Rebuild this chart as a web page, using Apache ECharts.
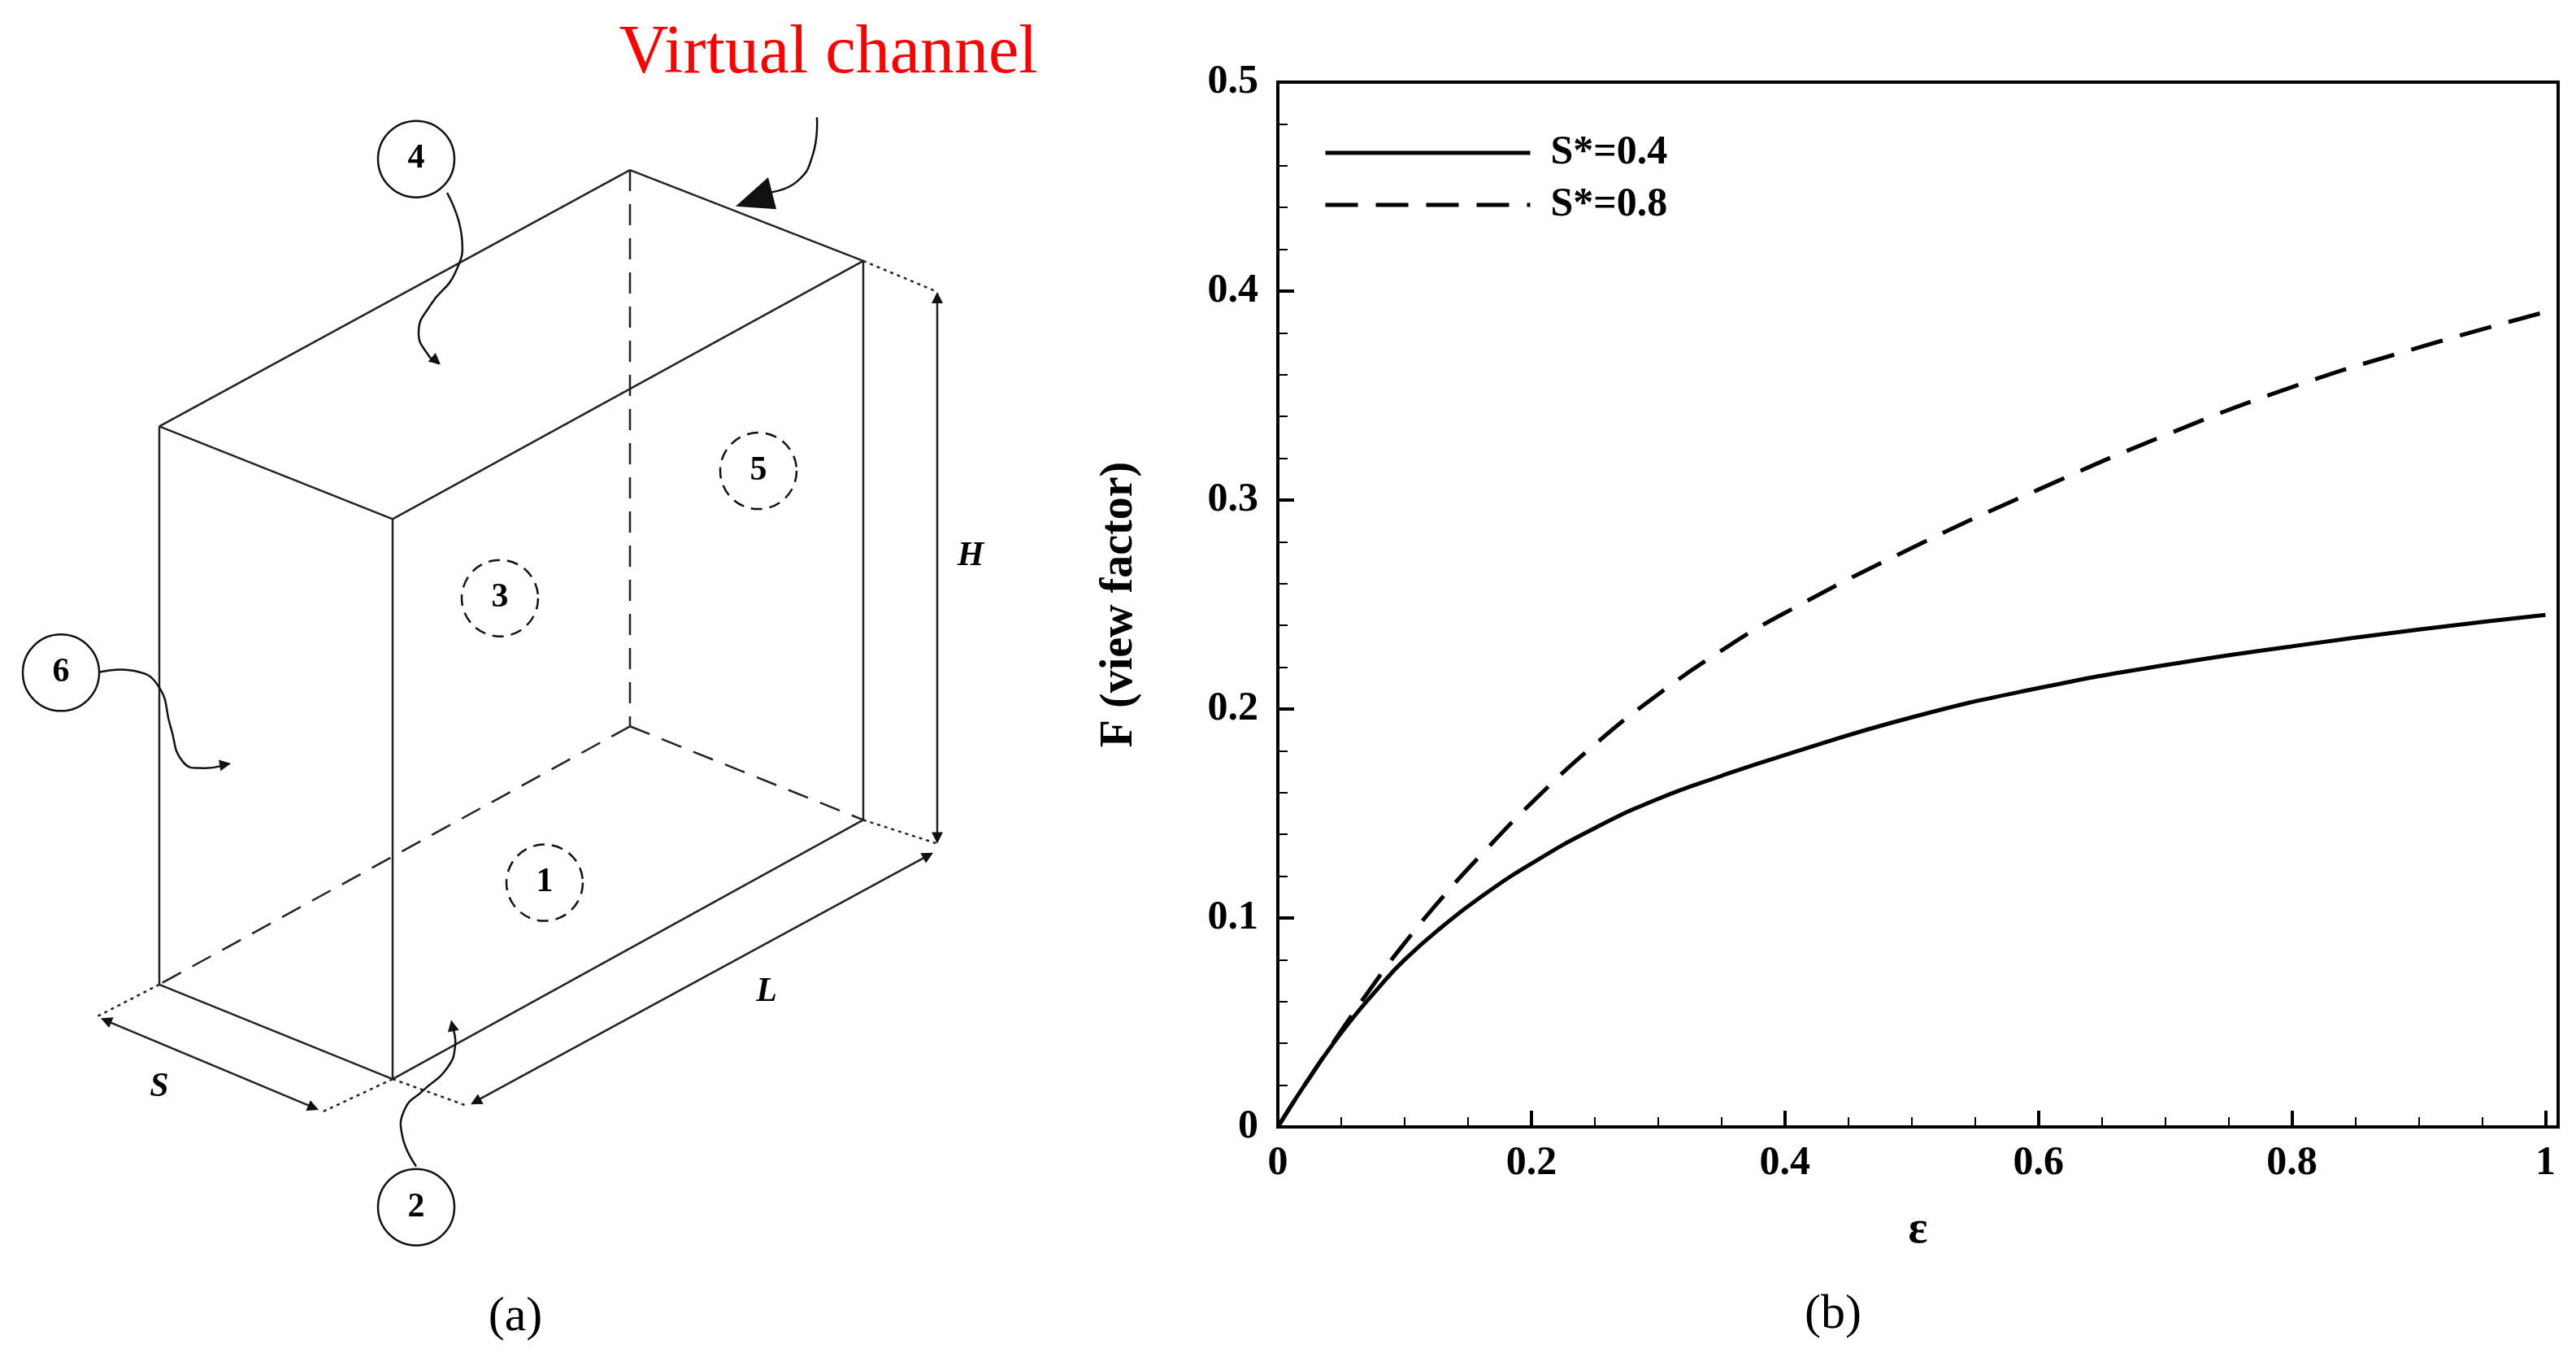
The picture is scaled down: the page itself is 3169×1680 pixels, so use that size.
<!DOCTYPE html>
<html><head><meta charset="utf-8">
<script src="https://cdn.jsdelivr.net/npm/echarts@6/dist/echarts.min.js"></script>
<style>html,body{margin:0;background:#fff}#c{width:3169px;height:1680px}</style>
</head><body><div id="c"></div>
<script>
const xVals = [0,0.02,0.05,0.08,0.1,0.13,0.16,0.2,0.25,0.3,0.35,0.4,0.5,0.6,0.7,0.8,0.9,1.0];
const s04 = [0,0.019,0.045,0.067,0.08,0.096,0.11,0.126,0.143,0.157,0.168,0.178,0.196,0.21,0.221,0.23,0.238,0.245];
const s08 = [0,0.019,0.046,0.072,0.088,0.11,0.13,0.155,0.183,0.207,0.228,0.246,0.277,0.305,0.331,0.354,0.373,0.39];
const xTicks = [0,0.2,0.4,0.6,0.8,1];
const yTicks = [0,0.1,0.2,0.3,0.4,0.5];

const serif = 'Liberation Serif';
const K = 1.118;
const ln = (x1,y1,x2,y2,dash,w) => ({type:'line',shape:{x1,y1:y1*K,x2,y2:y2*K},style:{stroke:'#222',lineWidth:w||2.5,lineDash:dash||null}});
const circ = (cx,cy,label,dashed) => ([
  {type:'circle',shape:{cx,cy:cy*K,r:47},style:{fill:'#fff',stroke:'#111',lineWidth:2.5,lineDash:dashed?[14,9]:null}},
  {type:'text',x:cx,y:cy*K,style:{text:label,font:'bold 42px '+serif,fill:'#000',align:'center',verticalAlign:'middle'}}
]);
const curve = pts => ({type:'polyline',shape:{points:pts.map(p=>[p[0],p[1]*K]),smooth:0.5},style:{fill:null,stroke:'#111',lineWidth:2.5}});
const ang = (x1,y1,x2,y2) => -Math.atan2((y2-y1)*K,x2-x1);
const head = (x,y,a,s) => { s=s||1; return {type:'polygon',rotation:a,x,y:y*K,shape:{points:[[0,0],[-14*s,-7*s],[-14*s,7*s]]},style:{fill:'#111'}}; };
const txt = (x,y,t,font,fill) => ({type:'text',x,y,style:{text:t,font,fill:fill||'#000',align:'center',verticalAlign:'middle'}});

const A=[775,187],B=[1062,287],C=[196,469],D=[483,571],E=[775,799],F=[1062,902],G=[196,1083],H=[483,1187];
const L=(p,q,d)=>ln(p[0],p[1],q[0],q[1],d);
const graphics = [
  L(A,B),L(A,C),L(C,D),L(D,B),L(C,G),L(D,H),L(B,F),L(G,H),L(H,F),
  L(A,E,[26,16]),L(E,G,[26,16]),L(E,F,[26,16]),
  ln(1062,287,1153,321,[4,5]),ln(1062,902,1153,928,[4,5]),ln(1153,323,1153,926),
  head(1153,321,ang(0,10,0,0)),head(1153,928,ang(0,0,0,10)),
  ln(483,1187,576,1217,[4,5]),ln(582,1213,1146,939),
  head(579,1215,ang(1148,938,579,1215)),head(1148,938,ang(579,1215,1148,938)),
  ln(196,1083,120,1118,[4,5]),ln(483,1187,397,1223,[4,5]),ln(126,1121,390,1220),
  head(124,1120,ang(392,1221,124,1120)),head(392,1221,ang(124,1120,392,1221)),
  txt(1194,612*K,'H','italic bold 42px '+serif),txt(943,1091*K,'L','italic bold 42px '+serif),txt(196,1196*K,'S','italic bold 42px '+serif),
  curve([[550,212],[568,260],[560,300],[530,335],[515,365],[528,392],[540,400]]),head(542,401,ang(530,392,542,401)),
  curve([[120,740],[165,738],[195,755],[210,800],[225,838],[250,845],[282,840]]),head(284,840,ang(270,842,284,840)),
  curve([[512,1283],[495,1250],[498,1220],[520,1200],[550,1175],[560,1150],[556,1128]]),head(555,1122,ang(558,1135,555,1122)),
  curve([[1005,129],[1000,170],[980,200],[945,212]]),
  {type:'polygon',shape:{points:[[905,227*K],[945,195*K],[955,230*K]]},style:{fill:'#111'}},
  ...circ(512,175,'4'),...circ(75,740,'6'),...circ(512,1328,'2'),
  ...circ(933,518,'5',true),...circ(615,658,'3',true),...circ(670,971,'1',true),
  txt(1019,67,'Virtual channel','84px '+serif,'#f00'),
  txt(634,1620,'(a)','60px '+serif),txt(2255,1617,'(b)','60px '+serif)
];

const chart = echarts.init(document.getElementById('c'));
chart.setOption({
  animation:false,
  graphic:graphics,
  legend:{left:1623,top:158,orient:'vertical',itemWidth:252,itemHeight:20,itemGap:14,
    itemStyle:{opacity:0},lineStyle:{width:5},
    textStyle:{fontFamily:serif,fontWeight:'bold',fontSize:50,color:'#000',padding:[0,0,0,20]},data:['S*=0.4','S*=0.8']},
  grid:{left:1572,top:101,right:3169-3147,bottom:1680-1386,show:true,borderColor:'#000',borderWidth:4},
  xAxis:{type:'value',min:0,max:1.01,interval:0.2,
    name:'ε',nameLocation:'middle',nameGap:100,nameTextStyle:{fontFamily:serif,fontWeight:'bold',fontSize:56,color:'#000'},
    axisLine:{lineStyle:{color:'#000',width:4}},
    axisTick:{inside:true,length:20,lineStyle:{color:'#000',width:4}},
    minorTick:{show:true,splitNumber:4,length:12,lineStyle:{color:'#000',width:2}},
    splitLine:{show:false},
    axisLabel:{showMaxLabel:false,margin:20,fontFamily:serif,fontWeight:'bold',fontSize:50,color:'#000',
      formatter:v=>xTicks.includes(Math.round(v*10)/10)?String(Math.round(v*10)/10):''}},
  yAxis:{type:'value',min:0,max:0.5,interval:0.1,
    name:'F (view factor)',nameLocation:'middle',nameGap:166,nameTextStyle:{fontFamily:serif,fontWeight:'bold',fontSize:56,color:'#000'},
    axisLine:{lineStyle:{color:'#000',width:4}},
    axisTick:{inside:true,length:20,lineStyle:{color:'#000',width:4}},
    minorTick:{show:true,splitNumber:5,length:12,lineStyle:{color:'#000',width:2}},
    splitLine:{show:false},
    axisLabel:{margin:24,fontFamily:serif,fontWeight:'bold',fontSize:50,color:'#000',
      formatter:v=>String(Math.round(v*10)/10)}},
  series:[
    {name:'S*=0.4',type:'line',smooth:0.5,symbol:'none',data:xVals.map((x,i)=>[x,s04[i]]),
      lineStyle:{color:'#000',width:5},itemStyle:{color:'#000'}},
    {name:'S*=0.8',type:'line',smooth:0.5,symbol:'none',data:xVals.map((x,i)=>[x,s08[i]]),
      lineStyle:{color:'#000',width:5,type:[40,22]},itemStyle:{color:'#000'}}
  ]
});
</script></body></html>
